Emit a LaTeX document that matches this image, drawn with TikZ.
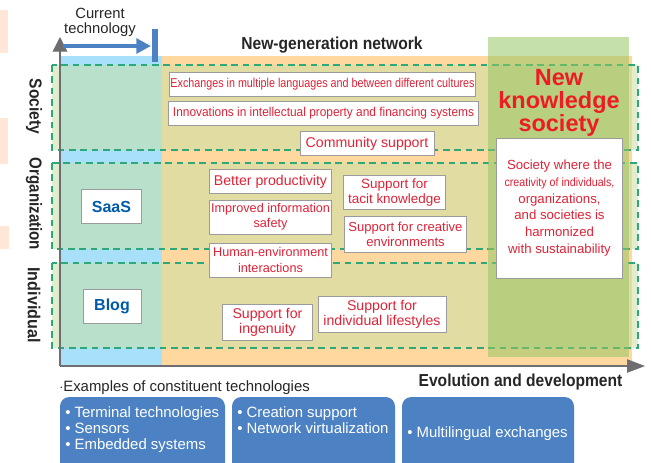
\documentclass[tikz,border=0pt]{standalone}
\usepackage{fontspec}
\setmainfont{Liberation Sans}
\usetikzlibrary{arrows.meta}
\definecolor{skyfill}{RGB}{168,224,250}
\definecolor{orangefill}{RGB}{255,216,160}
\definecolor{peachfill}{RGB}{255,230,215}
\definecolor{rowgreen}{RGB}{46,168,120}
\definecolor{rowfill}{RGB}{200,224,164}
\definecolor{columnfill}{RGB}{151,198,100}
\definecolor{axisgray}{RGB}{110,110,112}
\definecolor{techblue}{RGB}{76,130,196}
\definecolor{boxred}{RGB}{222,35,55}
\definecolor{titlered}{RGB}{237,28,36}
\definecolor{boxedge}{RGB}{155,155,158}
\definecolor{saasblue}{RGB}{0,90,170}
\tikzset{
  rowband/.style={draw=rowgreen,line width=1.9pt,dash pattern=on 5pt off 3.5pt,fill=rowfill,fill opacity=0.55},
  whitebox/.style={draw=boxedge,line width=0.7pt,fill=white,inner sep=0pt,align=center,text=boxred,font=\fontsize{10.6}{11.4}\selectfont},
  techtext/.style={text=white,inner sep=0pt,align=left,font=\fontsize{11.2}{12}\selectfont},
  rowlabel/.style={rotate=-90,font=\bfseries\fontsize{13}{15}\selectfont,text=black!85},
  headlabel/.style={font=\bfseries\fontsize{13}{15}\selectfont,text=black!85},
  bluelabel/.style={whitebox,text=saasblue,font=\bfseries\fontsize{12}{14}\selectfont},
}
\newcommand{\narrowtext}[1]{\scalebox{0.9}[1]{#1}}
\begin{document}
\begin{tikzpicture}[x=0.75pt,y=0.75pt,yscale=-1,xscale=1]
\useasboundingbox (0,0) rectangle (651,462);

% Peach strips at the margin
\fill [peachfill] (0,10) rectangle (8,53);
\fill [peachfill] (0,118) rectangle (8,164);
\fill [peachfill] (0,226) rectangle (9,249);

% Background areas
\fill [skyfill] (60,56) rectangle (162,366);
\fill [orangefill] (162,56) rectangle (632,366);

% Rows
\draw [rowband] (52,65) rectangle (638,150);
\draw [rowband] (52,163) rectangle (638,249);
\draw [rowband] (52,263) rectangle (638,348);

% New society column
\fill [columnfill,fill opacity=0.55] (488,37) rectangle (629,357);

% Axes
\coordinate (origin) at (60,366);
\coordinate (axisTop) at (60,37);
\coordinate (axisEnd) at (645,366);
\draw [axisgray,line width=1pt,-{Triangle[length=11pt,width=11pt]}] (origin) -- (axisTop);
\draw [axisgray,line width=1pt,-{Triangle[length=13.5pt,width=10pt]}] (origin) -- (axisEnd);

% Current technology
\coordinate (techStart) at (63,46);
\coordinate (techEnd) at (151,46);
\draw [techblue,line width=3pt,-{Triangle[length=11pt,width=11pt]}] (techStart) -- (techEnd);
\coordinate (barTop) at (155,29);
\coordinate (barEnd) at (155,62);
\draw [techblue,line width=4.4pt] (barTop) -- (barEnd);

% Text Node
\node [align=center,text=black!85,font=\fontsize{11.1}{11.6}\selectfont] (current) at (100,22.5) {Current\\technology};
\node [headlabel] (network) at (332,45) {\narrowtext{New-generation network}};
\node [headlabel] (evolution) at (520.5,382.5) {\narrowtext{Evolution and development}};
\node [rowlabel] (society) at (34,106.5) {\narrowtext{Society}};
\node [rowlabel] (organization) at (34,204) {\scalebox{0.87}[1]{Organization}};
\node [rowlabel] (individual) at (34,305) {\scalebox{0.93}[1]{Individual}};

% Society boxes
\node [whitebox,minimum width=230pt,minimum height=18pt] (exchanges) at (322.5,84) {\fontsize{9.6}{11}\selectfont\scalebox{0.84}[1]{Exchanges in multiple languages and between different cultures}};
\node [whitebox,minimum width=232pt,minimum height=17.5pt] (innovations) at (323.5,113.5) {\fontsize{9.6}{11}\selectfont\scalebox{0.93}[1]{Innovations in intellectual property and financing systems}};
\node [whitebox,minimum width=100.5pt,minimum height=17.5pt] (community) at (367,143.5) {Community support};

% Organization boxes
\node [whitebox,minimum width=92pt,minimum height=17.5pt] (productivity) at (270.5,181.5) {Better productivity};
\node [whitebox,minimum width=92pt,minimum height=25.5pt,font=\fontsize{9.5}{11.4}\selectfont] (safety) at (270.5,217) {Improved information\\safety};
\node [whitebox,minimum width=92pt,minimum height=25.5pt,font=\fontsize{9.5}{11.4}\selectfont] (human) at (270.5,260) {Human-environment\\interactions};
\node [whitebox,minimum width=76pt,minimum height=26pt,font=\fontsize{10.1}{11.4}\selectfont] (tacit) at (394.5,192.5) {Support for\\tacit knowledge};
\node [whitebox,minimum width=92pt,minimum height=27pt,font=\fontsize{9.8}{11.4}\selectfont] (creative) at (405.5,234) {Support for creative\\environments};

% Individual boxes
\node [whitebox,minimum width=68pt,minimum height=27pt] (ingenuity) at (267.5,322) {Support for\\ingenuity};
\node [whitebox,minimum width=96pt,minimum height=27pt] (lifestyles) at (382,314) {Support for\\individual lifestyles};

% Current technology boxes
\node [bluelabel,minimum width=45pt,minimum height=25pt] (saas) at (111.5,206.5) {SaaS};
\node [bluelabel,minimum width=43.5pt,minimum height=25pt] (blog) at (112,306.5) {Blog};

% New knowledge society
\node [align=center,text=titlered,font=\bfseries\fontsize{17.6}{17}\selectfont] (newsociety) at (559,103) {New\\knowledge\\society};
\node [whitebox,minimum width=94pt,minimum height=105pt,font=\fontsize{9.9}{12.5}\selectfont] (sustain) at (559.5,208) {Society where the\\{\fontsize{9}{12.5}\selectfont\scalebox{0.89}[1]{creativity of individuals,}}\\organizations,\\and societies is\\harmonized\\with sustainability};

% Examples
\node [anchor=west,inner sep=0pt,text=black!85,font=\fontsize{11.2}{12}\selectfont] (examples) at (59,387.5) {$\cdot$Examples of constituent technologies};
\begin{scope}
\clip (0,0) rectangle (651,462);
\fill [techblue,rounded corners=7pt] (60,397) rectangle (225,475);
\fill [techblue,rounded corners=7pt] (232,397) rectangle (395,475);
\fill [techblue,rounded corners=7pt] (402,397) rectangle (574,475);
\end{scope}
\node [techtext,anchor=north west] (terminal) at (65,406.5) {• Terminal technologies\\• Sensors\\• Embedded systems};
\node [techtext,anchor=north west] (creation) at (237,406.5) {• Creation support\\• Network virtualization};
\node [techtext,anchor=west] (multilingual) at (407,434) {• Multilingual exchanges};

\end{tikzpicture}
\end{document}
